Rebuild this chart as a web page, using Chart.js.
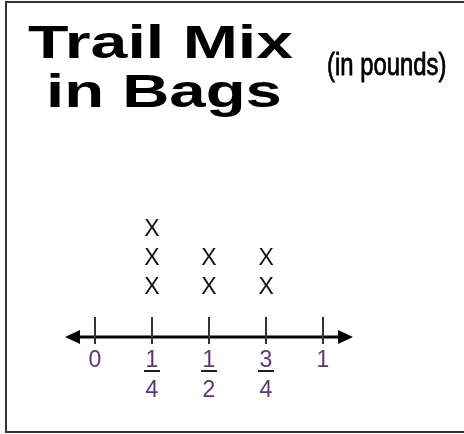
<!DOCTYPE html>
<html>
<head>
<meta charset="utf-8">
<script src="https://cdn.jsdelivr.net/npm/chart.js@4"></script>
<style>
  html, body { margin: 0; padding: 0; background: #fff; }
  canvas { display: block; }
</style>
</head>
<body>
<canvas id="myChart" width="464" height="434"></canvas>
<script>
// data
const weights = [0.25, 0.5, 0.75];      // pounds of trail mix
const bagCounts = [3, 2, 2];            // number of X's above each weight
const tickValues = [0, 0.25, 0.5, 0.75, 1];
const tickLabels = ['0', '1/4', '1/2', '3/4', '1'];
const titleLines = ['Trail Mix', 'in Bags'];
const unitLabel = '(in pounds)';

// one point per X, stacked 1..n above each weight
const points = [];
weights.forEach(function(w, i) {
    for (let k = 1; k <= bagCounts[i]; k++) {
        points.push({ x: w, y: k });
    }
});

const linePlot = {
    id: 'linePlot',
    beforeDraw(chart) {
        const ctx = chart.ctx;
        ctx.save();
        ctx.fillStyle = '#fff';
        ctx.fillRect(0, 0, chart.width, chart.height);

        // frame (right side runs off the picture)
        ctx.strokeStyle = '#333';
        ctx.lineWidth = 2;
        ctx.beginPath();
        ctx.moveTo(470, 2);
        ctx.lineTo(6, 2);
        ctx.lineTo(6, 432);
        ctx.lineTo(470, 432);
        ctx.stroke();

        // title, wide bold face
        ctx.fillStyle = '#000';
        ctx.textBaseline = 'alphabetic';
        ctx.textAlign = 'left';
        ctx.font = 'bold 46px "Liberation Sans", Arial, sans-serif';
        ctx.save();
        ctx.translate(28, 58);
        ctx.scale(1.44, 1);
        ctx.fillText(titleLines[0], 0, 0);
        ctx.restore();
        ctx.save();
        ctx.translate(46, 107);
        ctx.scale(1.42, 1);
        ctx.fillText(titleLines[1], 0, 0);
        ctx.restore();

        // units, narrow face
        ctx.font = '31px "Liberation Sans", Arial, sans-serif';
        ctx.save();
        ctx.translate(327, 75);
        ctx.scale(0.77, 1);
        ctx.fillText(unitLabel, 0, 0);
        ctx.strokeStyle = '#000';
        ctx.lineWidth = 0.8;
        ctx.strokeText(unitLabel, 0, 0);
        ctx.restore();
        ctx.restore();
    },
    afterDatasetsDraw(chart) {
        const ctx = chart.ctx;
        const xs = chart.scales.x;
        const area = chart.chartArea;
        const y0 = area.bottom;
        ctx.save();

        // number line with arrows
        ctx.strokeStyle = '#000';
        ctx.fillStyle = '#000';
        ctx.lineWidth = 3;
        ctx.beginPath();
        ctx.moveTo(area.left + 8, y0);
        ctx.lineTo(area.right - 8, y0);
        ctx.stroke();
        ctx.beginPath();
        ctx.moveTo(area.left, y0);
        ctx.lineTo(area.left + 15, y0 - 7);
        ctx.lineTo(area.left + 15, y0 + 7);
        ctx.closePath();
        ctx.fill();
        ctx.beginPath();
        ctx.moveTo(area.right, y0);
        ctx.lineTo(area.right - 15, y0 - 7);
        ctx.lineTo(area.right - 15, y0 + 7);
        ctx.closePath();
        ctx.fill();

        // ticks and labels
        ctx.font = '23px "Liberation Sans", Arial, sans-serif';
        ctx.textAlign = 'center';
        ctx.textBaseline = 'alphabetic';
        tickValues.forEach(function(v, i) {
            const px = Math.round(xs.getPixelForValue(v));
            ctx.strokeStyle = '#333';
            ctx.lineWidth = 2;
            ctx.beginPath();
            ctx.moveTo(px, y0 - 20);
            ctx.lineTo(px, y0 + 7);
            ctx.stroke();

            ctx.fillStyle = '#5b3470';
            const parts = tickLabels[i].split('/');
            ctx.fillText(parts[0], px, y0 + 30);
            if (parts.length > 1) {
                ctx.strokeStyle = '#222';
                ctx.lineWidth = 2;
                ctx.beginPath();
                ctx.moveTo(px - 8, y0 + 34);
                ctx.lineTo(px + 8, y0 + 34);
                ctx.stroke();
                ctx.fillText(parts[1], px, y0 + 60);
            }
        });

        // the X marks sit on the dataset points
        ctx.fillStyle = '#111';
        ctx.font = '23px "Liberation Sans", Arial, sans-serif';
        ctx.textBaseline = 'middle';
        chart.getDatasetMeta(0).data.forEach(function(pt) {
            ctx.fillText('X', pt.x, pt.y);
        });
        ctx.restore();
    }
};

new Chart(document.getElementById('myChart').getContext('2d'), {
    type: 'scatter',
    data: {
        datasets: [{
            label: 'Bags',
            data: points,
            pointRadius: 0,
            showLine: false
        }]
    },
    options: {
        responsive: false,
        animation: false,
        events: [],
        layout: {
            padding: { left: 65, right: 111, top: 201, bottom: 97 }
        },
        plugins: {
            legend: { display: false },
            tooltip: { enabled: false },
            title: { display: false }
        },
        scales: {
            x: { type: 'linear', min: -0.13, max: 1.13, display: false },
            y: { type: 'linear', min: -0.7, max: 4, display: false }
        }
    },
    plugins: [linePlot]
});
</script>
</body>
</html>
